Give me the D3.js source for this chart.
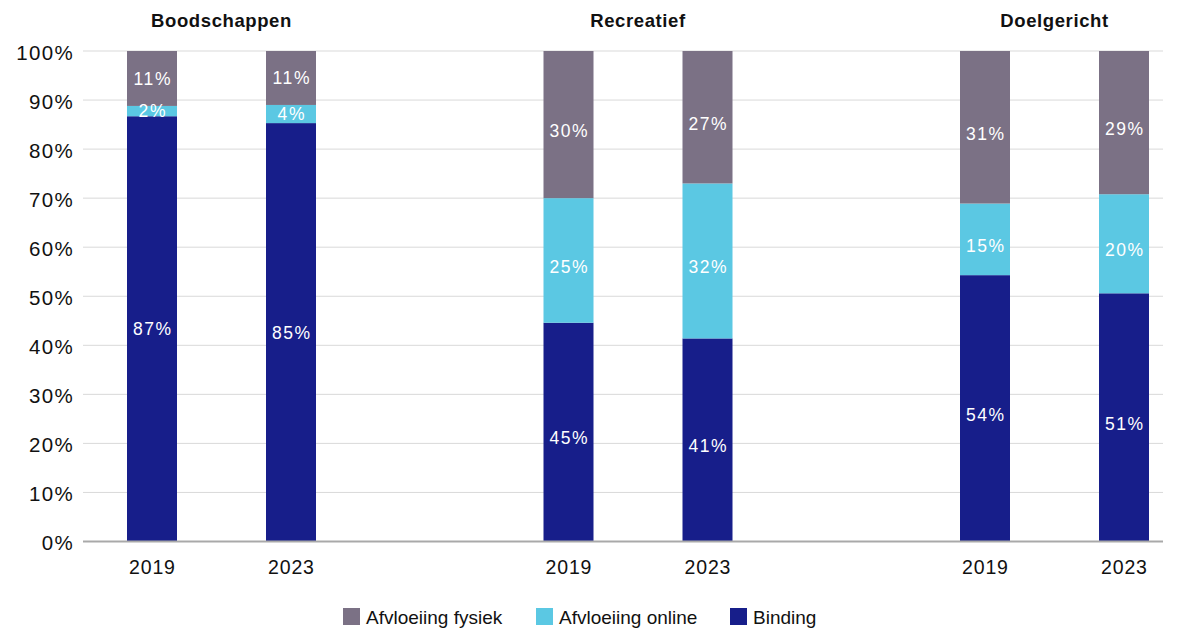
<!DOCTYPE html>
<html>
<head>
<meta charset="utf-8">
<script src="https://cdn.jsdelivr.net/npm/d3@7"></script>
<style>
  html, body { margin: 0; padding: 0; background: #fff; }
  svg { display: block; font-family: "Liberation Sans", Arial, sans-serif; }
</style>
</head>
<body>
<div id="chart"></div>
<script>
// Data (percent shares, stacked to 100).
const groups = ['Boodschappen', 'Recreatief', 'Doelgericht'];
const years = ['2019', '2023'];
const seriesNames = ['Binding', 'Afvloeiing online', 'Afvloeiing fysiek'];
const binding = [86.7, 85.3, 44.6, 41.4, 54.3, 50.6];
const online = [2.1, 3.7, 25.4, 31.6, 14.6, 20.2];
const fysiek = [11.2, 11.0, 30.0, 27.0, 31.1, 29.2];
const yTicks = [0, 10, 20, 30, 40, 50, 60, 70, 80, 90, 100];
const legendOrder = ['Afvloeiing fysiek', 'Afvloeiing online', 'Binding'];

(function(){
  const width = 1181, height = 631;
  const color = d3.scaleOrdinal().domain(seriesNames).range(['#171e8a', '#5bc8e3', '#7b7185']);

  // Rows: one per group/year pair.
  const rows = [];
  groups.forEach((g, gi) => years.forEach((y, yi) => {
    const i = gi * years.length + yi;
    rows.push({group: g, year: y, 'Binding': binding[i], 'Afvloeiing online': online[i], 'Afvloeiing fysiek': fysiek[i]});
  }));
  const stacked = d3.stack().keys(seriesNames)(rows);

  const svg = d3.select('#chart').append('svg').attr('width', width).attr('height', height);

  const x0 = d3.scalePoint().domain(groups).range([221.5, 1054.5]);
  const x1 = d3.scalePoint().domain(years).range([-69.5, 69.5]);
  const y = d3.scaleLinear().domain([0, 100]).range([541.5, 51]);
  const barW = 50;
  const plotLeft = 83, plotRight = 1163;
  const xc = d => x0(d.group) + x1(d.year);

  // Gridlines
  svg.append('g').selectAll('line')
    .data(yTicks.filter(t => t > 0))
    .join('line')
    .attr('x1', plotLeft).attr('x2', plotRight)
    .attr('y1', d => y(d)).attr('y2', d => y(d))
    .attr('stroke', '#d9d9d9').attr('stroke-width', 1);

  // Y axis labels
  const yAxis = d3.axisLeft(y).tickValues(yTicks).tickFormat(d => d + '%').tickSize(0).tickPadding(0);
  const yg = svg.append('g').attr('transform', `translate(74,0)`).call(yAxis);
  yg.select('.domain').remove();
  yg.selectAll('text').attr('font-size', 20.5).attr('fill', '#111').attr('dy', '0.4em')
    .attr('letter-spacing', 1.3)
    .style('font-family', '"Liberation Sans", Arial, sans-serif');

  // Bars
  const layer = svg.append('g').selectAll('g')
    .data(stacked).join('g')
    .attr('fill', d => color(d.key));

  layer.selectAll('rect')
    .data(d => d)
    .join('rect')
    .attr('x', d => xc(d.data) - barW / 2)
    .attr('y', d => y(d[1]))
    .attr('width', barW)
    .attr('height', d => y(d[0]) - y(d[1]));

  // Segment value labels (the original sits them a little low outside the first group)
  svg.append('g').selectAll('g')
    .data(stacked).join('g')
    .selectAll('text')
    .data(d => d)
    .join('text')
    .attr('x', d => xc(d.data) + 0.8)
    .attr('y', d => y((d[0] + d[1]) / 2) + (d.data.group === groups[0] ? 0 : 6))
    .attr('dy', '0.36em')
    .attr('text-anchor', 'middle')
    .attr('fill', '#fff')
    .attr('font-size', 17.5)
    .attr('letter-spacing', 1.6)
    .text(d => Math.round(d[1] - d[0]) + '%');

  // Baseline
  svg.append('line')
    .attr('x1', plotLeft).attr('x2', plotRight)
    .attr('y1', y(0)).attr('y2', y(0))
    .attr('stroke', '#a9a9a9').attr('stroke-width', 2);

  // X labels (years)
  svg.append('g').selectAll('text')
    .data(rows).join('text')
    .attr('x', d => xc(d) + 0.4)
    .attr('y', 574)
    .attr('text-anchor', 'middle')
    .attr('font-size', 19.5)
    .attr('letter-spacing', 0.8)
    .attr('fill', '#111')
    .text(d => d.year);

  // Group titles
  svg.append('g').selectAll('text')
    .data(groups).join('text')
    .attr('x', d => x0(d))
    .attr('y', 27)
    .attr('text-anchor', 'middle')
    .attr('font-size', 18.5)
    .attr('font-weight', 'bold')
    .attr('letter-spacing', 0.6)
    .attr('fill', '#111')
    .text(d => d);

  // Legend
  const legendX = [343, 536, 730];
  const lg = svg.append('g').selectAll('g')
    .data(legendOrder).join('g')
    .attr('transform', (d, i) => `translate(${legendX[i]},608)`);
  lg.append('rect').attr('width', 17).attr('height', 17).attr('fill', d => color(d));
  lg.append('text').attr('x', 23).attr('y', 16).attr('font-size', 19).attr('fill', '#111').text(d => d);
})();
</script>
</body>
</html>
